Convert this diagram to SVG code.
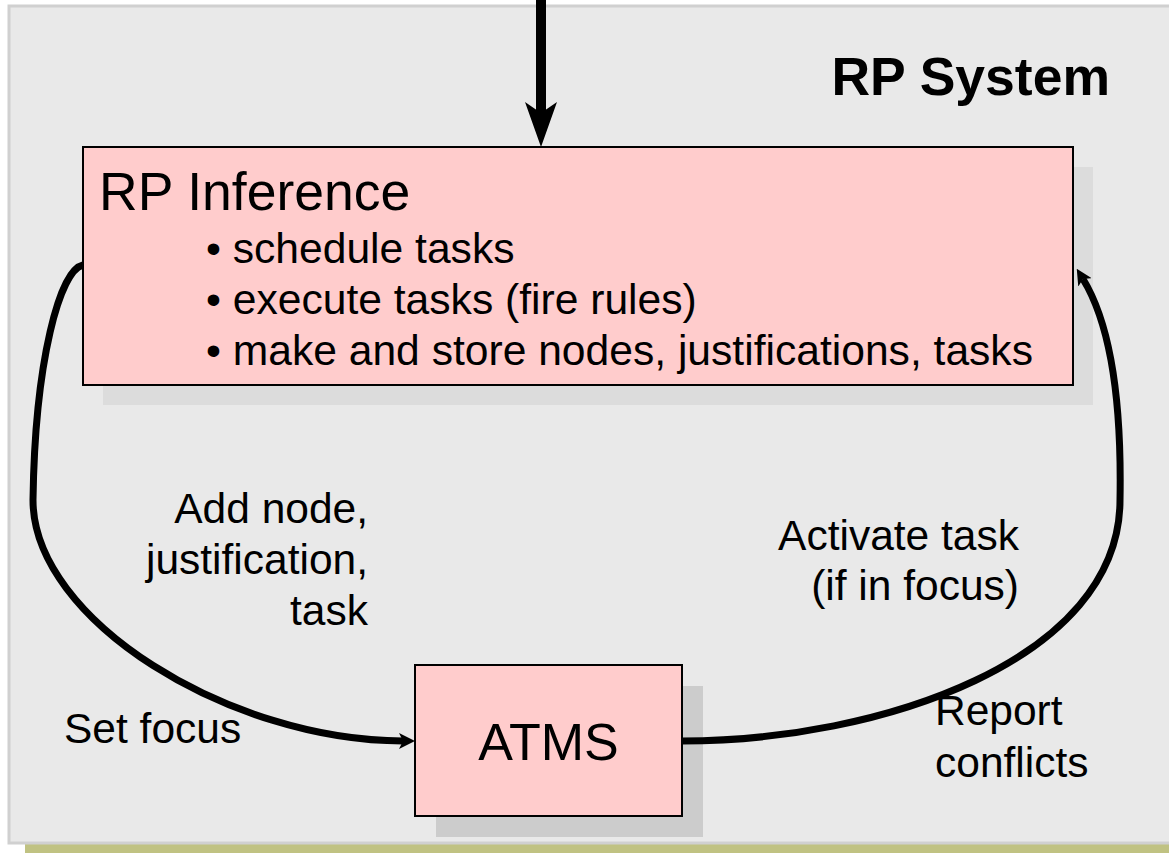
<svg xmlns="http://www.w3.org/2000/svg" width="1169" height="853" viewBox="0 0 1169 853">
<style>
  text { font-family: "Liberation Sans", Arial, sans-serif; fill: #000; }
  .lbl { font-size: 42.5px; }
  .item { font-size: 42.6px; }
  .title { font-size: 53.5px; }
  .box { fill: #ffcccc; stroke: #000; stroke-width: 2; }
  .conn { fill: none; stroke: #000; }
</style>
<defs>
  <marker id="arrowBig" markerUnits="userSpaceOnUse" viewBox="0 -16 45 32" refX="13" refY="0" markerWidth="45" markerHeight="32" orient="auto">
    <path d="M0,-16 L45,0 L0,16 L11,0 Z" fill="#000"/>
  </marker>
  <marker id="arrowSmall" markerUnits="userSpaceOnUse" viewBox="0 -8 16 16" refX="4" refY="0" markerWidth="16" markerHeight="16" orient="auto">
    <path d="M0,-8 L16,0 L0,8 L4,0 Z" fill="#000"/>
  </marker>
</defs>
<rect x="0" y="0" width="1169" height="853" fill="#ffffff"/>
<g id="system">
  <rect x="25" y="22" width="1200" height="837" fill="#c0c282"/>
  <rect x="9" y="6" width="1200" height="837" fill="#e9e9e9" stroke="#d0d0d0" stroke-width="3"/>
  <text x="1110" y="95" font-size="53.5" font-weight="bold" text-anchor="end">RP System</text>
</g>
<g id="rp-inference">
  <rect x="103" y="167" width="990" height="238" fill="#dcdcdc"/>
  <rect class="box" x="83" y="147" width="990" height="238"/>
  <text class="title" x="99" y="210">RP Inference</text>
  <text class="item" x="206" y="263">• schedule tasks</text>
  <text class="item" x="206" y="314">• execute tasks (fire rules)</text>
  <text class="item" x="206" y="365">• make and store nodes, justifications, tasks</text>
</g>
<g id="atms">
  <rect x="436" y="686" width="267" height="151" fill="#cccccc"/>
  <rect class="box" x="415" y="665" width="267" height="151"/>
  <text x="548.5" y="760" font-size="52" text-anchor="middle">ATMS</text>
</g>
<g id="connectors">
  <path class="conn" d="M541,-5 L541,115" stroke-width="10" marker-end="url(#arrowBig)"/>
  <path class="conn" d="M83,265 C60,270 35,360 33,500 C33,620 230,741 403,741" stroke-width="7" marker-end="url(#arrowSmall)"/>
  <path class="conn" d="M682,741 C880,741 1120,660 1120,500 C1122,390 1108,320 1083,279" stroke-width="7" marker-end="url(#arrowSmall)"/>
</g>
<g id="labels">
  <text class="lbl" x="368" y="523" text-anchor="end">Add node,</text>
  <text class="lbl" x="368" y="574" text-anchor="end">justification,</text>
  <text class="lbl" x="368" y="625" text-anchor="end">task</text>
  <text class="lbl" x="1019" y="550" text-anchor="end">Activate task</text>
  <text class="lbl" x="1019" y="600" text-anchor="end">(if in focus)</text>
  <text class="lbl" x="64" y="743">Set focus</text>
  <text class="lbl" x="935" y="725">Report</text>
  <text class="lbl" x="935" y="777">conflicts</text>
</g>
</svg>
